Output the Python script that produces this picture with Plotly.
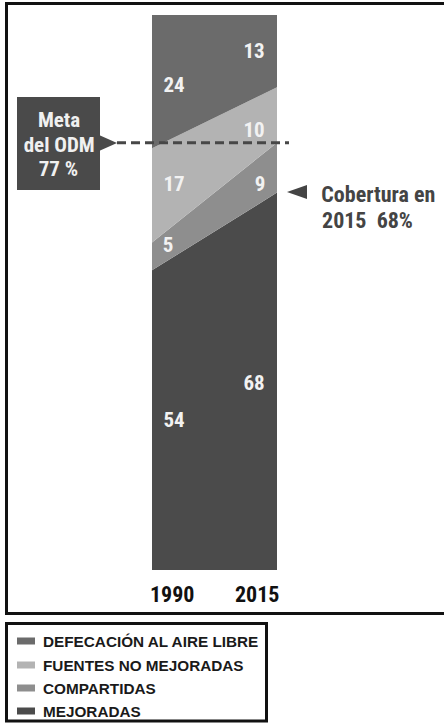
import plotly.graph_objects as go

# Sanitation coverage shares (%) by category
years = [1990, 2015]
categories = ["MEJORADAS", "COMPARTIDAS", "FUENTES NO MEJORADAS", "DEFECACIÓN AL AIRE LIBRE"]
mejoradas = [54, 68]
compartidas = [5, 9]
fuentes_no_mejoradas = [17, 10]
defecacion_aire_libre = [24, 13]
meta_odm = 77
year_labels = ["1990", "2015"]

series = [mejoradas, compartidas, fuentes_no_mejoradas, defecacion_aire_libre]
colors = ["#4b4b4b", "#8e8e8e", "#b3b3b3", "#6b6b6b"]

# Figure / plot-area geometry in pixels
W, H = 444, 725
L, R, T, B = 152, 277, 15, 570
PW, PH = R - L, B - T

# Roboto is drawn condensed through a CSS rule added after plotting
FONT_COND = "Roboto"
FONT_BOLD = "Liberation Sans"


def px(x):
    return (x - L) / PW


def py(y):
    return (B - y) / PH


fig = go.Figure()
for name, vals, col in zip(categories, series, colors):
    fig.add_trace(go.Scatter(
        x=years, y=vals, name=name, stackgroup="s", mode="none",
        fillcolor=col, line=dict(width=0), hoverinfo="skip",
    ))

annotations = []
shapes = []

# Value labels inside each band; nudges are pixels downward from the band middle
label_x = {0: (161, "left"), 1: (267, "right")}
label_down = [
    [0, 2],      # mejoradas
    [-11, 16],   # compartidas
    [-11, 15],   # fuentes no mejoradas
    [3, 0],      # defecación
]
for i in range(2):
    base = 0
    for s, vals in enumerate(series):
        mid = base + vals[i] / 2
        base += vals[i]
        xp, anchor = label_x[i]
        annotations.append(dict(
            x=px(xp), xref="paper", y=mid, yref="y", text=f"<b>{vals[i]}</b>",
            showarrow=False, xanchor=anchor, yanchor="middle",
            yshift=-label_down[s][i], borderpad=0,
            font=dict(family=FONT_COND, size=21, color="#f2f2f2"),
        ))

# Year labels under the columns
for lbl, xc in zip(year_labels, [172, 257]):
    annotations.append(dict(
        x=px(xc), xref="paper", y=py(594), yref="paper", text=f"<b>{lbl}</b>",
        showarrow=False, xanchor="center", yanchor="middle",
        font=dict(family=FONT_COND, size=22, color="#111111"),
    ))

# MDG target box with pointer
shapes.append(dict(type="rect", xref="paper", yref="paper",
                   x0=px(17), x1=px(100), y0=py(97), y1=py(190),
                   fillcolor="#4a4a4a", line=dict(width=0), layer="above"))
shapes.append(dict(type="path", xref="paper", yref="paper",
                   path=f"M {px(99)} {py(135)} L {px(117)} {py(143)} L {px(99)} {py(151)} Z",
                   fillcolor="#4a4a4a", line=dict(width=0), layer="above"))
for txt, yc in zip(["Meta", "del ODM", f"{meta_odm} %"], [120, 145, 169]):
    annotations.append(dict(
        x=px(58.5), xref="paper", y=py(yc), yref="paper", text=f"<b>{txt}</b>",
        showarrow=False, xanchor="center", yanchor="middle",
        font=dict(family=FONT_COND, size=21, color="#f0f0f0"),
    ))

# Target line at the MDG value
shapes.append(dict(type="line", xref="paper", yref="y",
                   x0=px(117), x1=px(289), y0=meta_odm, y1=meta_odm,
                   line=dict(color="#474747", width=3, dash="9px,5px"), layer="above"))

# 2015 coverage pointer and caption
cov = mejoradas[1]
shapes.append(dict(type="path", xref="paper", yref="paper",
                   path=f"M {px(287)} {py(192)} L {px(307)} {py(185)} L {px(307)} {py(199)} Z",
                   fillcolor="#444444", line=dict(width=0)))
for txt, xc, yc in zip(["Cobertura en", f"{years[1]}  {cov}%"], [378.5, 367], [194, 220]):
    annotations.append(dict(
        x=px(xc), xref="paper", y=py(yc), yref="paper", text=f"<b>{txt}</b>",
        showarrow=False, xanchor="center", yanchor="middle", borderpad=0,
        font=dict(family=FONT_COND, size=22, color="#444444"),
    ))

# Outer frame of the chart
shapes.append(dict(type="rect", xref="paper", yref="paper",
                   x0=px(6.5), x1=px(452), y0=py(3.5), y1=py(613.5),
                   line=dict(color="#111111", width=3), fillcolor="rgba(0,0,0,0)"))

# Legend box
shapes.append(dict(type="rect", xref="paper", yref="paper",
                   x0=px(6.5), x1=px(266.5), y0=py(623.5), y1=py(721),
                   line=dict(color="#111111", width=3), fillcolor="rgba(0,0,0,0)"))
legend_rows = [641, 665, 688, 711]
legend_order = [3, 2, 1, 0]
for yc, idx in zip(legend_rows, legend_order):
    shapes.append(dict(type="rect", xref="paper", yref="paper",
                       x0=px(17), x1=px(35), y0=py(yc - 3.5), y1=py(yc + 3.5),
                       fillcolor=colors[idx], line=dict(width=0)))
    annotations.append(dict(
        x=px(42), xref="paper", y=py(yc), yref="paper", text=f"<b>{categories[idx]}</b>",
        showarrow=False, xanchor="left", yanchor="middle", borderpad=0,
        font=dict(family=FONT_BOLD, size=15.3, color="#1a1a1a"),
    ))

fig.update_layout(
    width=W, height=H,
    margin=dict(l=L, r=W - R, t=T, b=H - B, pad=0),
    paper_bgcolor="white", plot_bgcolor="white",
    showlegend=False,
    xaxis=dict(range=[years[0], years[1]], visible=False, fixedrange=True),
    yaxis=dict(range=[0, 100], visible=False, fixedrange=True),
    shapes=shapes, annotations=annotations,
)

# Condensed width for the Roboto texts, then redraw so text boxes are re-measured
post_js = """
var st = document.createElement('style');
st.textContent = 'text[style*="Roboto"]{font-stretch:75% !important;}';
document.head.appendChild(st);
var gd = document.getElementById('{plot_id}');
Plotly.redraw(gd);
"""

fig.write_html("out.html", config={"displayModeBar": False}, post_script=post_js)
